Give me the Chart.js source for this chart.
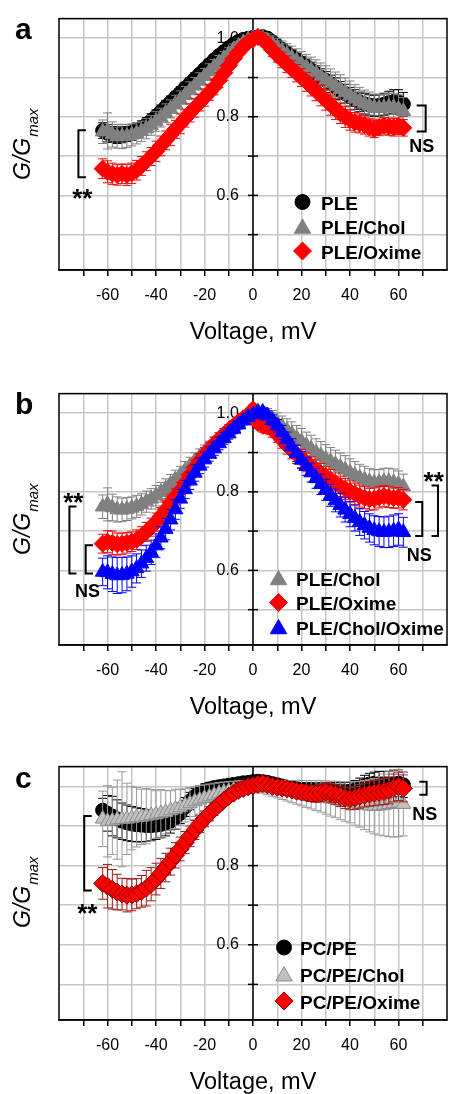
<!DOCTYPE html>
<html><head><meta charset="utf-8">
<script src="https://cdn.jsdelivr.net/npm/chart.js@4.4.0/dist/chart.umd.min.js"></script>
<style>
html,body{margin:0;padding:0;background:#fff;overflow:hidden;}
body{width:457px;height:1094px;position:relative;}
canvas{position:absolute;left:0;}
</style></head><body>
<canvas id="cA" width="457" height="360" style="top:0px"></canvas>
<canvas id="cB" width="457" height="360" style="top:375px"></canvas>
<canvas id="cC" width="457" height="362" style="top:748px"></canvas>
<script>
// ---------------- DATA ----------------
const voltages = [-62,-60,-58,-56,-54,-52,-50,-48,-46,-44,-42,-40,-38,-36,-34,-32,
  -30,-28,-26,-24,-22,-20,-18,-16,-14,-12,-10,-8,-6,-4,-2,0,
  2,4,6,8,10,12,14,16,18,20,22,24,26,28,30,32,
  34,36,38,40,42,44,46,48,50,52,54,56,58,60,62];
const xTickLabels = [-60,-40,-20,0,20,40,60];
const yTickLabels = [0.6,0.8,1.0];

// Panel a
const aPLE = [.765,.758,.755,.753,.754,.756,.760,.765,.772,.780,.790,.801,.813,.825,.837,.849,
  .861,.873,.885,.897,.909,.921,.933,.945,.956,.966,.976,.985,.992,.997,1.000,1.002,
  1.003,1.004,1.000,.991,.981,.972,.963,.954,.945,.936,.928,.919,.910,.901,.893,.884,
  .876,.867,.859,.851,.844,.838,.833,.830,.828,.829,.832,.836,.839,.838,.832];
const aPLEerr = [.020,.022,.020,.021,.020,.019,.020,.019,.018,.018,.018,.017,.017,.017,.016,.016,
  .016,.015,.015,.015,.014,.014,.013,.013,.012,.012,.011,.010,.009,.008,.006,.004,
  .006,.008,.010,.012,.013,.014,.015,.016,.017,.018,.019,.020,.020,.021,.022,.022,
  .023,.023,.024,.024,.025,.025,.026,.026,.027,.027,.028,.029,.030,.031,.030];
const aChol = [.762,.764,.755,.750,.750,.751,.754,.758,.763,.770,.778,.788,.798,.809,.820,.832,
  .843,.855,.867,.879,.891,.903,.915,.927,.938,.949,.960,.971,.980,.989,.996,1.000,
  1.004,1.000,.993,.985,.976,.967,.958,.950,.942,.934,.926,.918,.910,.902,.894,.886,
  .878,.870,.862,.854,.846,.839,.833,.828,.824,.822,.823,.825,.824,.820,.814];
const aCholErr = [.030,.046,.032,.030,.031,.029,.028,.027,.026,.026,.025,.025,.024,.024,.023,.023,
  .023,.022,.022,.021,.021,.020,.020,.019,.018,.017,.016,.014,.012,.010,.008,.006,
  .010,.014,.018,.021,.024,.026,.028,.030,.031,.032,.033,.034,.035,.035,.036,.036,
  .036,.037,.037,.037,.036,.036,.035,.035,.034,.034,.034,.035,.036,.036,.035];
const aOxime = [.668,.660,.655,.652,.655,.652,.656,.664,.675,.687,.699,.712,.726,.740,.754,.768,
  .782,.796,.810,.823,.836,.849,.862,.876,.893,.911,.930,.948,.964,.979,.990,.997,
  1.003,.996,.985,.970,.957,.945,.934,.922,.911,.900,.889,.877,.866,.854,.843,.831,
  .820,.809,.800,.792,.786,.783,.779,.773,.769,.773,.777,.775,.773,.776,.772];
const aOximeErr = [.025,.028,.027,.026,.025,.027,.026,.025,.024,.024,.023,.026,.025,.024,.027,.023,
  .025,.022,.023,.024,.021,.022,.020,.020,.019,.018,.017,.016,.014,.012,.010,.008,
  .010,.012,.015,.017,.018,.020,.021,.022,.022,.023,.024,.024,.025,.026,.026,.027,
  .027,.026,.027,.026,.025,.024,.023,.022,.022,.021,.021,.022,.022,.021,.021];

// Panel b
const bChol = [.762,.768,.760,.755,.754,.756,.759,.763,.768,.775,.782,.790,.799,.808,.820,.831,
  .842,.854,.866,.878,.889,.900,.911,.923,.934,.945,.956,.966,.976,.986,.994,1.000,
  1.005,1.001,.994,.985,.976,.966,.957,.947,.937,.928,.918,.909,.900,.892,.884,.877,
  .870,.863,.856,.849,.842,.836,.831,.826,.823,.824,.826,.826,.824,.820,.813];
const bCholErr = [.030,.042,.034,.032,.030,.029,.028,.028,.027,.027,.026,.026,.025,.025,.024,.024,
  .023,.023,.022,.021,.020,.019,.018,.017,.016,.015,.014,.012,.011,.009,.008,.006,
  .010,.014,.018,.022,.025,.027,.029,.031,.032,.033,.034,.035,.035,.036,.036,.036,
  .036,.036,.036,.035,.035,.034,.034,.033,.033,.033,.034,.034,.034,.033,.032];
const bOxime = [.668,.673,.670,.667,.668,.670,.673,.678,.687,.698,.710,.723,.738,.755,.773,.788,
  .804,.823,.843,.862,.879,.895,.909,.922,.934,.946,.957,.968,.978,.987,.994,1.010,
  .975,.968,.966,.958,.946,.932,.918,.906,.895,.885,.875,.865,.856,.847,.839,.831,
  .822,.814,.807,.801,.795,.789,.785,.781,.782,.786,.789,.787,.784,.785,.780];
const bOximeErr = [.024,.028,.030,.028,.027,.026,.025,.025,.024,.024,.023,.023,.022,.022,.021,.021,
  .020,.020,.019,.019,.018,.018,.017,.017,.016,.015,.014,.013,.012,.011,.010,.012,
  .014,.016,.018,.019,.020,.021,.022,.022,.023,.023,.024,.024,.025,.025,.025,.026,
  .026,.026,.027,.027,.027,.028,.028,.028,.028,.027,.027,.027,.026,.026,.026];
const bCholOxime = [.596,.595,.590,.587,.588,.591,.597,.605,.617,.631,.646,.663,.683,.705,.729,.755,
  .782,.806,.828,.848,.866,.882,.896,.910,.923,.936,.948,.960,.971,.981,.990,.997,
  1.002,1.003,.994,.982,.968,.951,.933,.915,.898,.881,.865,.849,.834,.819,.805,.791,
  .778,.766,.754,.743,.733,.723,.715,.708,.702,.699,.697,.698,.701,.704,.697];
const bCholOximeErr = [.035,.042,.044,.046,.045,.043,.040,.037,.035,.033,.031,.030,.028,.027,.026,.025,
  .024,.023,.022,.021,.020,.019,.018,.017,.016,.015,.014,.012,.011,.010,.008,.006,
  .008,.010,.012,.014,.016,.018,.019,.020,.021,.022,.023,.024,.025,.026,.027,.028,
  .029,.030,.031,.032,.033,.034,.035,.036,.037,.038,.039,.040,.040,.040,.038];

// Panel c
const cPCPE = [.940,.932,.925,.918,.912,.908,.905,.903,.902,.901,.901,.902,.904,.907,.912,.920,
  .932,.948,.963,.975,.984,.990,.994,.997,.999,1.001,1.003,1.005,1.007,1.009,1.010,1.012,
  1.013,1.012,1.010,1.007,1.004,1.001,.998,.996,.994,.992,.991,.990,.989,.989,.988,.988,
  .988,.987,.987,.988,.991,.996,1.002,1.006,1.008,1.008,1.006,1.004,1.006,1.008,1.004];
const cPCPEerr = [.030,.045,.050,.048,.046,.045,.044,.043,.042,.040,.038,.036,.034,.032,.030,.028,
  .026,.024,.022,.020,.018,.016,.015,.014,.013,.012,.011,.010,.010,.009,.009,.008,
  .008,.009,.010,.011,.012,.013,.014,.015,.016,.017,.018,.019,.020,.020,.021,.021,
  .022,.022,.023,.023,.024,.025,.026,.027,.028,.030,.032,.034,.035,.034,.032];
const cChol = [.918,.912,.913,.916,.917,.918,.920,.922,.923,.925,.927,.929,.932,.935,.939,.943,
  .947,.952,.957,.962,.966,.970,.974,.978,.982,.985,.988,.991,.994,.996,.998,.999,
  1.000,.999,.997,.995,.993,.991,.989,.987,.985,.983,.981,.979,.977,.975,.972,.969,
  .967,.964,.962,.960,.957,.955,.953,.951,.950,.951,.953,.955,.957,.958,.955];
const cCholErr = [.070,.090,.085,.100,.120,.090,.080,.075,.070,.070,.065,.060,.060,.055,.050,.050,
  .045,.042,.040,.038,.036,.034,.032,.030,.028,.026,.024,.022,.020,.018,.016,.015,
  .015,.016,.018,.020,.022,.024,.026,.028,.030,.032,.034,.036,.038,.040,.042,.044,
  .046,.048,.050,.052,.055,.058,.062,.066,.070,.074,.078,.082,.085,.085,.080];
const cOxime = [.755,.748,.740,.733,.728,.725,.726,.729,.735,.743,.753,.766,.780,.795,.810,.826,
  .842,.858,.874,.890,.905,.918,.931,.943,.954,.965,.975,.983,.990,.995,.999,1.002,
  1.005,1.007,1.004,1.000,.998,.996,.994,.991,.988,.986,.984,.982,.981,.983,.986,.983,
  .979,.975,.971,.969,.971,.975,.978,.981,.983,.985,.987,.990,.996,1.000,.995];
const cOximeErr = [.040,.055,.050,.045,.040,.042,.040,.038,.040,.045,.042,.040,.038,.036,.034,.032,
  .030,.028,.026,.024,.022,.020,.018,.016,.014,.012,.010,.009,.008,.008,.008,.008,
  .009,.010,.011,.012,.013,.014,.015,.016,.017,.018,.019,.020,.021,.022,.023,.024,
  .025,.026,.027,.028,.029,.030,.030,.031,.032,.032,.033,.034,.035,.036,.034];

// Annotations (data coordinates)
const aBrackets = [{x:-72, arm:-68.9, y1:0.766, y2:0.646}, {x:71.2, arm:67.5, y1:0.829, y2:0.7625}];
const aNotes = [{t:'**', x:-70.4, y:0.61}, {t:'NS', x:69.6, y:0.726}];
const bBrackets = [{x:-75.7, arm:-72.8, y1:0.7625, y2:0.592}, {x:-69, arm:-66, y1:0.664, y2:0.592},
  {x:69.8, arm:66.9, y1:0.774, y2:0.6875}, {x:76.3, arm:73.6, y1:0.816, y2:0.6875}];
const bNotes = [{t:'**', x:-74.1, y:0.79}, {t:'NS', x:-68.2, y:0.5475}, {t:'**', x:74.5, y:0.8425}, {t:'NS', x:68.6, y:0.64}];
const cBrackets = [{x:-69.6, arm:-66.5, y1:0.925, y2:0.737}, {x:71.6, arm:68.6, y1:1.012, y2:0.979}];
const cNotes = [{t:'**', x:-68.3, y:0.695}, {t:'NS', x:70.8, y:0.932}];

// ---------------- RENDERING ----------------
const FONT = "'Liberation Sans', Arial, Helvetica, sans-serif";
Chart.defaults.font.family = FONT;
Chart.defaults.color = '#000';
const GRID = '#c6c6c6';

function series(label, vals, errs, st) {
  return Object.assign({
    label,
    data: voltages.map((v, i) => ({x: v, y: vals[i]})),
    errors: errs,
    showLine: false,
    borderWidth: 1,
    pointBorderWidth: 1,
    clip: false
  }, st);
}
const stCircle = c => ({pointStyle:'circle', pointRadius:7, backgroundColor:c, borderColor:c, pointBackgroundColor:c, pointBorderColor:c, errorColor:c, legendRadius:7.5});
const stTri = (f, b, e, r) => ({pointStyle:'triangle', pointRadius:r||8.5, backgroundColor:f, borderColor:b, pointBackgroundColor:f, pointBorderColor:b, errorColor:e, legendRadius:9.5});
const stDia = (f, b, e, r) => ({pointStyle:'rectRot', pointRadius:r||8.5, backgroundColor:f, borderColor:b, pointBackgroundColor:f, pointBorderColor:b, errorColor:e, legendRadius:9});

function drawMarker(ctx, style, r, x, y) {
  if (Chart.helpers && Chart.helpers.drawPoint) {
    Chart.helpers.drawPoint(ctx, {pointStyle: style, radius: r, borderWidth: 1, rotation: 0}, x, y);
    return;
  }
  ctx.beginPath();
  if (style === 'circle') ctx.arc(x, y, r, 0, Math.PI*2);
  else if (style === 'triangle') { ctx.moveTo(x, y-r); ctx.lineTo(x+r*0.866, y+r/2); ctx.lineTo(x-r*0.866, y+r/2); ctx.closePath(); }
  else { ctx.moveTo(x-r, y); ctx.lineTo(x, y-r); ctx.lineTo(x+r, y); ctx.lineTo(x, y+r); ctx.closePath(); }
  ctx.fill(); ctx.stroke();
}

const deco = {
  id: 'deco',
  beforeDatasetsDraw(chart) {
    const {ctx, chartArea: a, scales: {x, y}} = chart;
    ctx.save();
    ctx.strokeStyle = '#000'; ctx.lineWidth = 1.5;
    const x0 = x.getPixelForValue(0);
    y.ticks.forEach(t => {
      const k = Math.round(t.value * 10);
      if (Math.abs(t.value * 10 - k) < 1e-6) {
        const py = y.getPixelForValue(t.value);
        ctx.beginPath(); ctx.moveTo(x0 - 5, py); ctx.lineTo(x0 + 5, py); ctx.stroke();
      }
    });
    ctx.beginPath(); ctx.moveTo(x0, a.top); ctx.lineTo(x0, a.bottom); ctx.stroke();
    ctx.strokeRect(a.left, a.top, a.right - a.left, a.bottom - a.top);
    ctx.restore();
  },
  beforeDatasetDraw(chart, args) {
    const ds = chart.data.datasets[args.index];
    if (!ds.errors) return;
    const {ctx} = chart; const y = chart.scales.y;
    const cap = 4.5;
    ctx.save(); ctx.strokeStyle = ds.errorColor; ctx.lineWidth = 1;
    args.meta.data.forEach((pt, i) => {
      const v = ds.data[i].y, e = ds.errors[i];
      const t = y.getPixelForValue(v + e), b = y.getPixelForValue(v - e);
      ctx.beginPath();
      ctx.moveTo(pt.x, t); ctx.lineTo(pt.x, b);
      ctx.moveTo(pt.x - cap, t); ctx.lineTo(pt.x + cap, t);
      ctx.moveTo(pt.x - cap, b); ctx.lineTo(pt.x + cap, b);
      ctx.stroke();
    });
    ctx.restore();
  },
  afterDatasetsDraw(chart, args, o) {
    const {ctx, scales: {x, y}} = chart;
    ctx.save();
    // brackets
    ctx.strokeStyle = '#000'; ctx.lineWidth = 2; ctx.lineCap = 'butt'; ctx.lineJoin = 'miter';
    (o.brackets || []).forEach(bk => {
      const px = x.getPixelForValue(bk.x), pa = x.getPixelForValue(bk.arm);
      const p1 = y.getPixelForValue(bk.y1), p2 = y.getPixelForValue(bk.y2);
      ctx.beginPath(); ctx.moveTo(pa, p1); ctx.lineTo(px, p1); ctx.lineTo(px, p2); ctx.lineTo(pa, p2); ctx.stroke();
    });
    // notes
    ctx.fillStyle = '#000'; ctx.textAlign = 'center'; ctx.textBaseline = 'alphabetic';
    (o.notes || []).forEach(n => {
      const px = x.getPixelForValue(n.x), py = y.getPixelForValue(n.y);
      if (n.t === '**') { ctx.font = 'bold 26px ' + FONT; ctx.fillText(n.t, px, py + 0.58 * 26); }
      else { ctx.font = 'bold 18px ' + FONT; ctx.fillText(n.t, px, py + 0.36 * 18); }
    });
    // legend
    const L = o.legend;
    chart.data.datasets.forEach((ds, i) => {
      const ry = L.y + i * L.dy;
      ctx.fillStyle = ds.backgroundColor; ctx.strokeStyle = ds.borderColor; ctx.lineWidth = 1;
      drawMarker(ctx, ds.pointStyle, ds.legendRadius, L.x, ds.pointStyle === 'triangle' ? ry + 2 : ry);
      ctx.fillStyle = '#000'; ctx.textAlign = 'left'; ctx.font = 'bold 19px ' + FONT;
      ctx.fillText(ds.label, L.tx, ry + 1 + 0.36 * 19);
    });
    // panel letter
    ctx.font = 'bold 30px ' + FONT; ctx.textAlign = 'left';
    ctx.fillText(o.letter, 15, o.letterY);
    // y title
    ctx.translate(30, 180); ctx.rotate(-Math.PI / 2);
    ctx.font = 'italic 23px ' + FONT;
    ctx.fillText('G/G', 0, 0);
    const w = ctx.measureText('G/G').width;
    ctx.font = 'italic 15px ' + FONT;
    ctx.fillText('max', w + 1, 8);
    ctx.restore();
  }
};

function makeChart(id, datasets, opts) {
  return new Chart(document.getElementById(id), {
    type: 'scatter',
    data: {datasets},
    plugins: [deco],
    options: {
      responsive: false, animation: false, devicePixelRatio: 1, events: [],
      layout: {padding: {left: 59, right: 1, top: 14, bottom: 0}},
      plugins: {legend: {display: false}, tooltip: {enabled: false}, deco: opts},
      scales: {
        x: {
          type: 'linear', position: 'bottom', min: -80, max: 80,
          afterFit: s => { s.height = 90; },
          grid: {
            color: c => (Math.abs(c.tick.value) >= 80 ? 'rgba(0,0,0,0)' : GRID),
            lineWidth: 1.5, tickLength: 6, tickWidth: 1.5,
            tickColor: c => (Math.abs(c.tick.value) >= 80 ? 'rgba(0,0,0,0)' : '#000')
          },
          border: {display: true, color: '#000', width: 1.5},
          ticks: {
            stepSize: 10, autoSkip: false, maxRotation: 0, minRotation: 0, padding: 10,
            font: {size: 16}, color: '#000',
            callback: v => (xTickLabels.includes(Math.round(v)) ? String(Math.round(v)) : '')
          },
          title: {display: true, text: 'Voltage, mV', font: {size: 23.5}, color: '#000', padding: {top: 0, bottom: 13}}
        },
        y: {
          // label column sits just left of the centre axis (x = 0), which is drawn by the plugin
          type: 'linear', position: {x: -5.85}, min: 0.41, max: 1.05,
          grid: {color: GRID, lineWidth: 1.5, tickLength: 5, tickColor: 'rgba(0,0,0,0)'},
          border: {display: false},
          ticks: {
            stepSize: 0.1, autoSkip: false, padding: 9, font: {size: 16}, color: '#000',
            callback: v => {
              const m = yTickLabels.find(t => Math.abs(t - v) < 1e-6);
              return m !== undefined ? m.toFixed(1) : '';
            }
          }
        }
      }
    }
  });
}

makeChart('cA', [
  Object.assign(series('PLE', aPLE, aPLEerr, stCircle('#000000')), {order: 2}),
  Object.assign(series('PLE/Chol', aChol, aCholErr, stTri('#808080', '#808080', '#808080')), {order: 1}),
  Object.assign(series('PLE/Oxime', aOxime, aOximeErr, stDia('#ff0000', '#ff0000', '#ff0000')), {order: 0})
], {brackets: aBrackets, notes: aNotes, legend: {x: 302.5, y: 202, dy: 24.5, tx: 321}, letter: 'a', letterY: 38.5});

makeChart('cB', [
  Object.assign(series('PLE/Chol', bChol, bCholErr, stTri('#808080', '#808080', '#808080')), {order: 2}),
  Object.assign(series('PLE/Oxime', bOxime, bOximeErr, stDia('#ff0000', '#ff0000', '#ff0000')), {order: 1}),
  Object.assign(series('PLE/Chol/Oxime', bCholOxime, bCholOximeErr, stTri('#0000ff', '#0000ff', '#0000ff')), {order: 0})
], {brackets: bBrackets, notes: bNotes, legend: {x: 278.5, y: 203, dy: 24.5, tx: 296}, letter: 'b', letterY: 38.5});

makeChart('cC', [
  Object.assign(series('PC/PE', cPCPE, cPCPEerr, stCircle('#000000')), {order: 2}),
  Object.assign(series('PC/PE/Chol', cChol, cCholErr, stTri('#c0c0c0', '#8c8c8c', '#9a9a9a')), {order: 1}),
  Object.assign(series('PC/PE/Oxime', cOxime, cOximeErr, stDia('#ff0000', '#8b0000', '#a01818', 9)), {order: 0})
], {brackets: cBrackets, notes: cNotes, legend: {x: 284, y: 199.5, dy: 26.7, tx: 300}, letter: 'c', letterY: 40});
</script>
</body></html>
